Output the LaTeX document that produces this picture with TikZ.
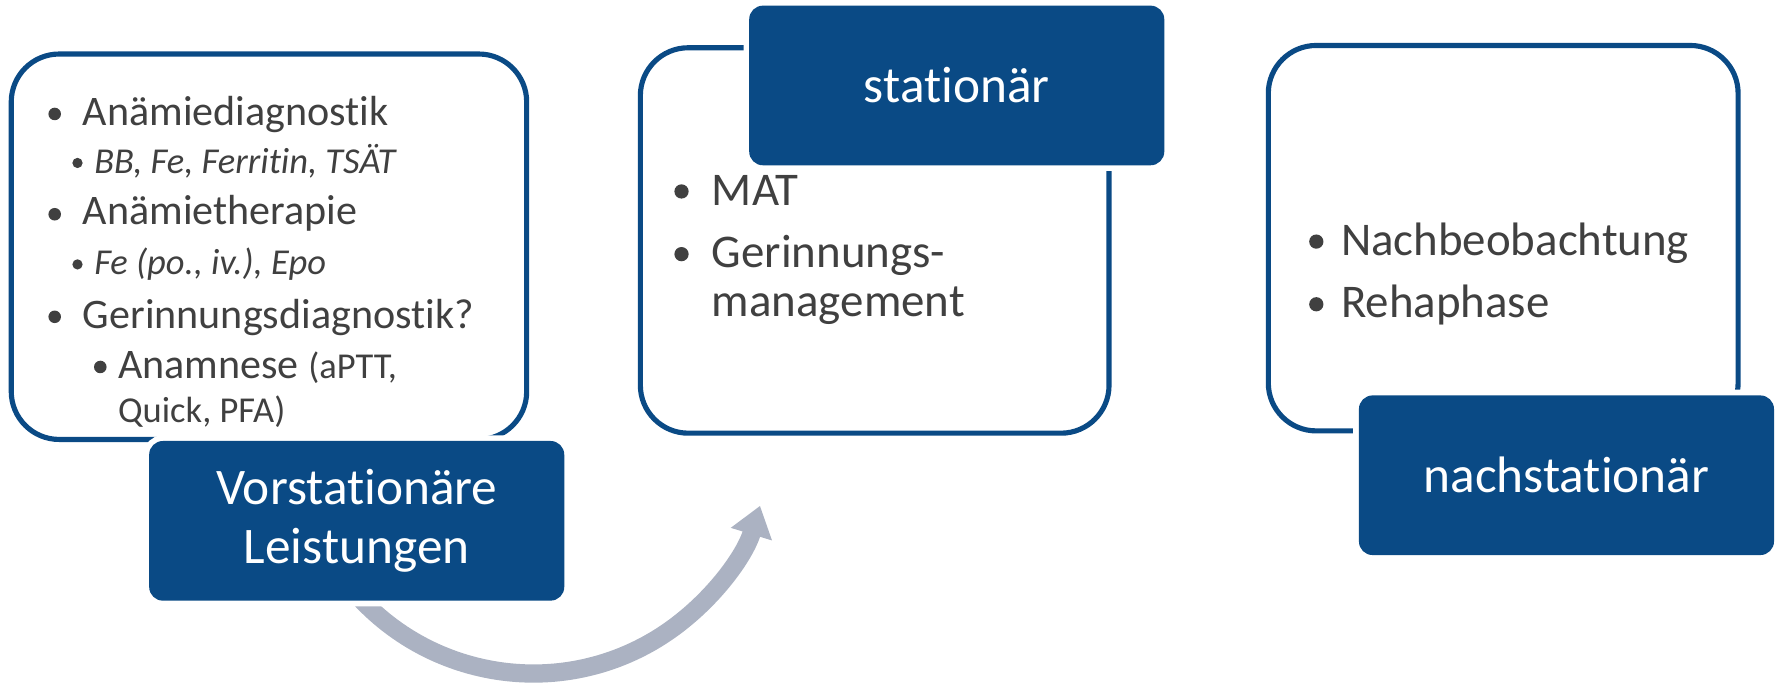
\documentclass[tikz,border=0pt]{standalone}
\usepackage{fontspec}
\setmainfont[Ligatures={NoCommon}]{Carlito}
\usetikzlibrary{arrows.meta}
\definecolor{kblue}{HTML}{0A4A85}
\definecolor{ktext}{HTML}{404040}
\definecolor{karrow}{HTML}{ABB2C2}
\begin{document}
\begin{tikzpicture}[x=0.01cm,y=0.01cm,
  frame/.style={draw=kblue, line width=0.45mm, rounded corners=4.2mm, inner sep=0pt, minimum height=3.38cm},
  tag/.style={fill=kblue, preaction={draw=white, line width=1mm}, rounded corners=1.2mm,
    minimum width=3.64cm, minimum height=1.4cm, inner sep=0pt, text=white,
    font=\fontsize{12.8}{14.8}\selectfont, align=center},
  dot/.style={circle, fill=ktext, inner sep=0pt, minimum size=0.11cm},
  bdot/.style={circle, fill=ktext, inner sep=0pt, minimum size=0.125cm},
  sdot/.style={circle, fill=ktext, inner sep=0pt, minimum size=0.09cm},
  txt/.style={anchor=base west, inner sep=0pt, text=ktext},
  fA/.style={txt, font=\fontsize{10.5}{12}\selectfont},
  fB/.style={txt, font=\fontsize{9.1}{11}\selectfont\itshape},
  fC/.style={txt, font=\fontsize{11.7}{13}\selectfont},
  bigarrow/.style={draw=karrow, line width=1.6mm, -{Triangle[length=2.6mm,width=3.6mm]}}
]
\useasboundingbox (0,0) rectangle (1568,600);
% arrow
\coordinate (astart) at (297.6,97.7);
\draw[bigarrow] (astart) arc[start angle=215, end angle=343, radius=208];
% frames
\node[frame, minimum width=4.52cm] (box1) at (236,383.5) {};
\node[frame, minimum width=4.11cm] (box2) at (767.5,389) {};
\node[frame, minimum width=4.12cm] (box3) at (1319,391) {};
% tags
\node[tag] (vor) at (313,143) {Vorstationäre\\Leistungen};
\node[tag] (sta) at (839.5,525) {stationär};
\node[tag] (nach) at (1374.5,183) {nachstationär};
% box 1 text
\node[dot] (d1) at (48,500) {};
\node[fA] (t1) at (72,490) {Anämiediagnostik};
\node[sdot] (d2) at (68,457) {};
\node[fB] (t2) at (82,448) {BB, Fe, Ferritin, TSÄT};
\node[dot] (d3) at (48,412) {};
\node[fA] (t3) at (72,403) {Anämietherapie};
\node[sdot] (d4) at (68,368) {};
\node[fB] (t4) at (82,359) {Fe (po., iv.), Epo};
\node[dot] (d5) at (48,322) {};
\node[fA] (t5) at (72,312) {Gerinnungsdiagnostik?};
\node[dot] (d6) at (88,278) {};
\node[fA] (t6) at (103,268) {Anamnese {\fontsize{9.1}{11}\selectfont(aPTT,}};
\node[txt, font=\fontsize{9.1}{11}\selectfont] (t7) at (103,229) {Quick, PFA)};
% box 2 text
\node[bdot] (d8) at (598,432) {};
\node[fC] (t8) at (624,420) {MAT};
\node[bdot] (d9) at (598,377) {};
\node[fC] (t9) at (624,365) {Gerinnungs-};
\node[fC] (t10) at (624,322) {management};
% box 3 text
\node[bdot] (d11) at (1155,388) {};
\node[fC] (t11) at (1176,376) {Nachbeobachtung};
\node[bdot] (d12) at (1155,333) {};
\node[fC] (t12) at (1176,321) {Rehaphase};
\end{tikzpicture}
\end{document}
